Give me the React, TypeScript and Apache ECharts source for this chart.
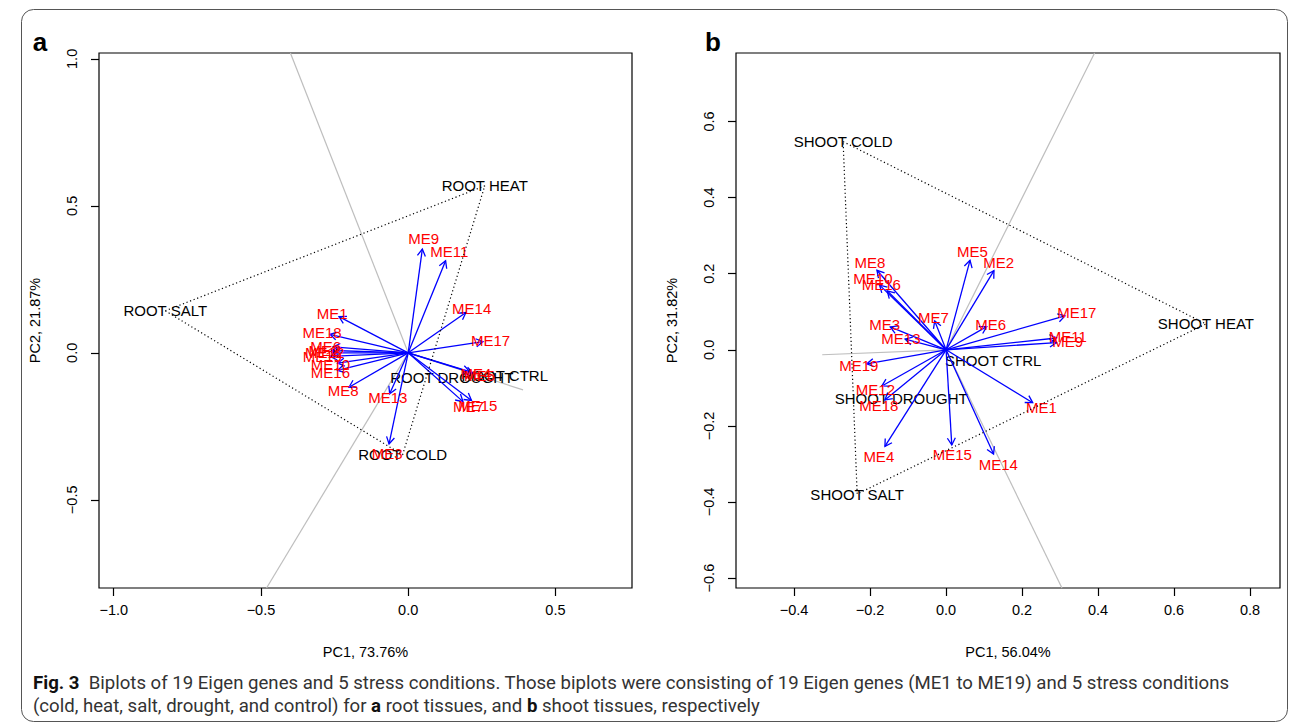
import React, { useEffect, useRef } from "react";
import * as echarts from "echarts";

// ---------- data ----------
const geneNames = ["ME1","ME2","ME3","ME4","ME5","ME6","ME7","ME8","ME9","ME10","ME11","ME12","ME13","ME14","ME15","ME16","ME17","ME18","ME19"];

// panel a (root tissues): eigengene arrow tips
const rootGeneX = [-0.235, -0.26, -0.065, 0.209, 0.22, -0.255, 0.186, -0.201, 0.048, -0.24, 0.127, -0.258, -0.063, 0.196, 0.215, -0.24, 0.254, -0.266, -0.265];
const rootGeneY = [0.123, 0.008, -0.31, -0.064, -0.069, 0.02, -0.166, -0.117, 0.353, -0.035, 0.313, 0.0, -0.139, 0.137, -0.162, -0.06, 0.038, 0.063, -0.012];

// panel b (shoot tissues): eigengene arrow tips
const shootGeneX = [0.228, 0.126, -0.147, -0.161, 0.063, 0.107, -0.03, -0.182, 0.291, -0.175, 0.291, -0.169, -0.108, 0.125, 0.015, -0.155, 0.313, -0.161, -0.209];
const shootGeneY = [-0.139, 0.208, 0.06, -0.254, 0.235, 0.061, 0.076, 0.209, 0.019, 0.17, 0.031, -0.095, 0.028, -0.274, -0.25, 0.155, 0.089, -0.132, -0.037];

// stress conditions
const rootCondNames = ["ROOT SALT", "ROOT HEAT", "ROOT COLD", "ROOT DROUGHT", "ROOT CTRL"];
const rootCondX = [-0.825, 0.26, -0.019, 0.148, 0.328];
const rootCondY = [0.143, 0.568, -0.347, -0.085, -0.078];
const rootHull = [0, 1, 2];

const shootCondNames = ["SHOOT COLD", "SHOOT HEAT", "SHOOT SALT", "SHOOT DROUGHT", "SHOOT CTRL"];
const shootCondX = [-0.271, 0.684, -0.234, -0.118, 0.124];
const shootCondY = [0.547, 0.068, -0.379, -0.129, -0.029];
const shootHull = [0, 1, 2];

// grey rays from origin (end points)
const rootRayX = [-0.40, -0.481, 0.39];
const rootRayY = [1.02, -0.80, -0.126];
const shootRayX = [0.391, 0.305, -0.326];
const shootRayY = [0.78, -0.626, -0.013];

// axes
const rootXRange = [-1.05, 0.76];
const rootYRange = [-0.80, 1.02];
const shootXRange = [-0.553, 0.879];
const shootYRange = [-0.626, 0.78];
const rootTicksX = [-1.0, -0.5, 0.0, 0.5];
const rootTicksY = [-0.5, 0.0, 0.5, 1.0];
const shootTicksX = [-0.4, -0.2, 0.0, 0.2, 0.4, 0.6, 0.8];
const shootTicksY = [-0.6, -0.4, -0.2, 0.0, 0.2, 0.4, 0.6];
const rootTitles = ["PC1, 73.76%", "PC2, 21.87%"];
const shootTitles = ["PC1, 56.04%", "PC2, 31.82%"];

const captionLine1 = "{b|Fig. 3}  Biplots of 19 Eigen genes and 5 stress conditions. Those biplots were consisting of 19 Eigen genes (ME1 to ME19) and 5 stress conditions";
const captionLine2 = "(cold, heat, salt, drought, and control) for {b|a} root tissues, and {b|b} shoot tissues, respectively";

// ---------- styling ----------
const FONT = '"Liberation Sans", Arial, Helvetica, sans-serif';
const CAP_FONT = 'Roboto, "Noto Sans", sans-serif';
const CAP_SIZE = 18.6;
const LABEL_PUSH = 1.1;

const fmt = (v: number) => {
  if (Math.abs(v) < 1e-9) return "0.0";
  return (v < 0 ? "\u2212" : "") + Math.abs(v).toFixed(1);
};

function buildPanel(idx: number, gx: number[], gy: number[], cn: string[], cx: number[], cy: number[], hull: number[], rx: number[], ry: number[]) {
  const series: any[] = [];
  // grey rays
  series.push({
    type: "custom",
    xAxisIndex: idx,
    yAxisIndex: idx,
    silent: true,
    data: rx.map((x, i) => [x, ry[i]]),
    renderItem: (p: any, api: any) => {
      const p0 = api.coord([0, 0]);
      const p1 = api.coord([api.value(0), api.value(1)]);
      return { type: "line", shape: { x1: p0[0], y1: p0[1], x2: p1[0], y2: p1[1] }, style: { stroke: "#bebebe", lineWidth: 1.2 } };
    },
  });
  // dotted hull
  const hullPts = hull.concat([hull[0]]).map((k) => [cx[k], cy[k]]);
  series.push({
    type: "line",
    xAxisIndex: idx,
    yAxisIndex: idx,
    silent: true,
    symbol: "none",
    data: hullPts,
    lineStyle: { color: "#000", width: 1.2, type: [1.2, 2.6] },
  });
  // condition labels
  series.push({
    type: "custom",
    xAxisIndex: idx,
    yAxisIndex: idx,
    silent: true,
    data: cx.map((x, i) => [x, cy[i]]),
    renderItem: (p: any, api: any) => {
      const pt = api.coord([api.value(0), api.value(1)]);
      return {
        type: "text",
        x: pt[0],
        y: pt[1],
        style: { text: cn[p.dataIndex], fill: "#000", fontSize: 15, fontFamily: FONT, align: "center", verticalAlign: "middle" },
      };
    },
  });
  // arrows
  series.push({
    type: "custom",
    xAxisIndex: idx,
    yAxisIndex: idx,
    silent: true,
    data: gx.map((x, i) => [x, gy[i]]),
    renderItem: (p: any, api: any) => {
      const p0 = api.coord([0, 0]);
      const p1 = api.coord([api.value(0), api.value(1)]);
      const ang = Math.atan2(p1[1] - p0[1], p1[0] - p0[0]);
      const L = 8, a = Math.PI / 6;
      const h1 = [p1[0] - L * Math.cos(ang - a), p1[1] - L * Math.sin(ang - a)];
      const h2 = [p1[0] - L * Math.cos(ang + a), p1[1] - L * Math.sin(ang + a)];
      return {
        type: "group",
        children: [
          { type: "line", shape: { x1: p0[0], y1: p0[1], x2: p1[0], y2: p1[1] }, style: { stroke: "#0000ff", lineWidth: 1.3 } },
          { type: "polyline", shape: { points: [h1, p1, h2] }, style: { stroke: "#0000ff", fill: null, lineWidth: 1.3 } },
        ],
      };
    },
  });
  // gene labels
  series.push({
    type: "custom",
    xAxisIndex: idx,
    yAxisIndex: idx,
    silent: true,
    data: gx.map((x, i) => [x, gy[i]]),
    renderItem: (p: any, api: any) => {
      const pt = api.coord([api.value(0) * LABEL_PUSH, api.value(1) * LABEL_PUSH]);
      return {
        type: "text",
        x: pt[0],
        y: pt[1],
        style: { text: geneNames[p.dataIndex], fill: "#ff0000", fontSize: 15, fontFamily: FONT, align: "center", verticalAlign: "middle" },
      };
    },
  });
  return series;
}

function makeAxis(kind: "x" | "y", idx: number, range: number[], ticks: number[], title: string) {
  return {
    type: "value",
    gridIndex: idx,
    min: range[0],
    max: range[1],
    axisLine: { show: false, onZero: false },
    splitLine: { show: false },
    axisTick: { show: true, inside: false, length: 8, customValues: ticks, lineStyle: { color: "#000", width: 1.2 } },
    axisLabel: {
      show: true,
      customValues: ticks,
      formatter: (v: number) => fmt(v),
      color: "#000",
      fontSize: 14.5,
      fontFamily: FONT,
      margin: kind === "x" ? 14 : 20,
      rotate: kind === "y" ? 90 : 0,
    },
    name: title,
    nameLocation: "middle",
    nameGap: kind === "x" ? 56 : 57,
    nameTextStyle: { color: "#000", fontSize: 14.5, fontFamily: FONT },
  };
}

export default function App() {
  const ref = useRef<HTMLDivElement>(null);
  useEffect(() => {
    if (!ref.current) return;
    const chart = echarts.init(ref.current, null, { renderer: "svg" });
    const option: any = {
      animation: false,
      backgroundColor: "#fff",
      grid: [
        { left: 99, top: 53, width: 533, height: 535, show: true, borderColor: "#000", borderWidth: 1.2, backgroundColor: "transparent" },
        { left: 736, top: 53, width: 544, height: 535, show: true, borderColor: "#000", borderWidth: 1.2, backgroundColor: "transparent" },
      ],
      xAxis: [
        makeAxis("x", 0, rootXRange, rootTicksX, rootTitles[0]),
        makeAxis("x", 1, shootXRange, shootTicksX, shootTitles[0]),
      ],
      yAxis: [
        makeAxis("y", 0, rootYRange, rootTicksY, rootTitles[1]),
        makeAxis("y", 1, shootYRange, shootTicksY, shootTitles[1]),
      ],
      series: [
        ...buildPanel(0, rootGeneX, rootGeneY, rootCondNames, rootCondX, rootCondY, rootHull, rootRayX, rootRayY),
        ...buildPanel(1, shootGeneX, shootGeneY, shootCondNames, shootCondX, shootCondY, shootHull, shootRayX, shootRayY),
      ],
      graphic: [
        { type: "rect", shape: { x: 21.5, y: 9.5, width: 1266, height: 712, r: 12 }, style: { fill: null, stroke: "#555", lineWidth: 1 }, silent: true },
        { type: "text", x: 40, y: 42, style: { text: "a", fontSize: 26, fontWeight: "bold", fontFamily: FONT, fill: "#000", align: "center", verticalAlign: "middle" } },
        { type: "text", x: 713, y: 42, style: { text: "b", fontSize: 26, fontWeight: "bold", fontFamily: FONT, fill: "#000", align: "center", verticalAlign: "middle" } },
        {
          type: "text", x: 33, y: 683,
          style: {
            text: captionLine1, fontSize: CAP_SIZE, fontFamily: CAP_FONT, fill: "#333", align: "left", verticalAlign: "middle",
            rich: { b: { fontWeight: "bold", fontSize: CAP_SIZE, fontFamily: CAP_FONT, fill: "#111" } },
          },
        },
        {
          type: "text", x: 33, y: 706,
          style: {
            text: captionLine2, fontSize: CAP_SIZE, fontFamily: CAP_FONT, fill: "#333", align: "left", verticalAlign: "middle",
            rich: { b: { fontWeight: "bold", fontSize: CAP_SIZE, fontFamily: CAP_FONT, fill: "#111" } },
          },
        },
      ],
    };
    chart.setOption(option);
    return () => chart.dispose();
  }, []);
  return <div ref={ref} style={{ position: "absolute", left: 0, top: 0, width: 1295, height: 728 }} />;
}
